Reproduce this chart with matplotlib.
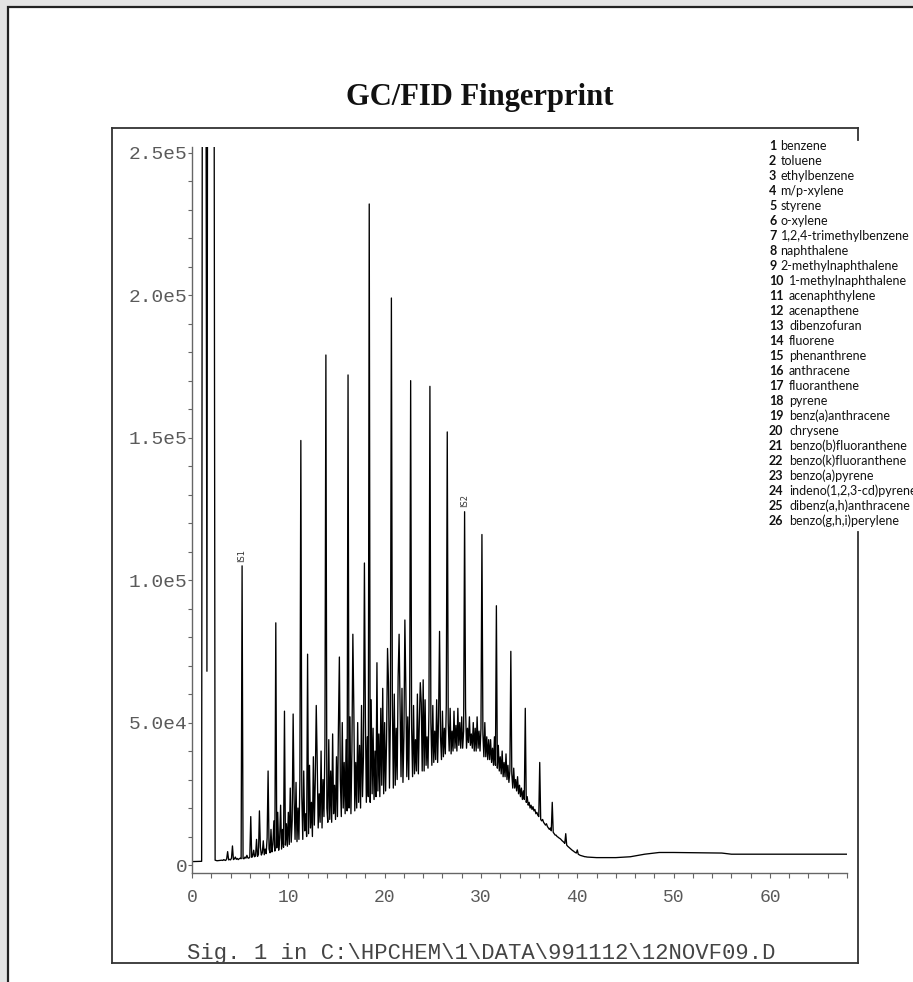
import numpy as np
import matplotlib
matplotlib.use('Agg')
import matplotlib.pyplot as plt
from matplotlib.patches import Rectangle
from matplotlib.lines import Line2D
from matplotlib.ticker import MultipleLocator, FixedLocator

W, H = 913, 982

# all signal values in counts/1000, time in min
# solvent front at the start of the run (off scale)
lead_t = [0.0, 1.0, 1.1, 1.4, 1.55, 1.65, 2.25, 2.4, 2.6, 2.9]
lead_v = [1.2, 1.3, 400, 400, 68, 400, 400, 1.7, 1.5, 1.6]

# hump + unresolved "grass", one row per minute, 0.1 min apart, from 3.0 min
grass_t0 = 3.0
grass_rows = [
    [1.6, 1.7, 1.6, 1.9, 1.7, 1.6, 2.2, 1.7, 1.8, 2.0],   # 3
    [1.8, 2.4, 2.0, 1.9, 2.2, 2.8, 2.0, 2.3, 1.9, 2.2],   # 4
    [2.4, 2.2, 3.2, 2.3, 2.2, 2.8, 2.4, 3.4, 2.5, 2.4],   # 5
    [2.8, 3.6, 2.7, 3.1, 5.2, 2.9, 3.3, 4.6, 3.0, 3.8],   # 6
    [3.3, 6.2, 3.5, 4.3, 8.5, 3.6, 5.6, 4.0, 9.5, 3.9],   # 7
    [5.6, 4.3, 12.5, 4.6, 7.2, 15.5, 4.9, 10.5, 6.0, 18.5],  # 8
    [5.2, 9.5, 21.0, 5.6, 12.5, 6.2, 25.0, 7.0, 14.5, 6.6],  # 9
    [18.5, 7.2, 27.0, 8.0, 15.5, 7.6, 23.0, 9.0, 29.0, 8.2],  # 10
    [20, 9, 30, 10, 24, 9, 33, 12, 18, 10],   # 11
    [28, 11, 35, 13, 22, 10, 38, 14, 30, 12],   # 12
    [36, 13, 25, 15, 40, 13, 30, 17, 42, 14],   # 13
    [20, 15, 44, 16, 33, 15, 46, 18, 28, 16],   # 14
    [38, 17, 48, 19, 30, 17, 50, 20, 36, 18],   # 15
    [44, 19, 30, 20, 52, 18, 40, 22, 55, 19],   # 16
    [36, 20, 50, 22, 42, 20, 56, 24, 38, 21],   # 17
    [52, 22, 45, 24, 36, 22, 58, 25, 48, 23],   # 18
    [40, 24, 60, 26, 46, 24, 55, 28, 62, 25],   # 19
    [50, 26, 44, 28, 64, 27, 52, 30, 58, 27],   # 20
    [60, 28, 48, 30, 66, 29, 55, 31, 62, 29],   # 21
    [45, 30, 62, 31, 52, 30, 58, 33, 48, 31],   # 22
    [56, 32, 44, 33, 60, 32, 50, 34, 57, 33],   # 23
    [48, 33, 58, 35, 45, 34, 54, 36, 50, 35],   # 24
    [56, 36, 47, 37, 58, 36, 52, 38, 45, 37],   # 25
    [54, 38, 48, 39, 56, 38, 50, 40, 55, 39],   # 26
    [47, 40, 54, 41, 49, 40, 55, 42, 50, 41],   # 27
    [52, 41, 47, 42, 55, 41, 48, 43, 52, 42],   # 28
    [46, 41, 50, 40, 48, 40, 52, 41, 47, 40],   # 29
    [48, 39, 46, 38, 50, 38, 45, 37, 44, 37],   # 30
    [44, 36, 41, 35, 45, 35, 40, 34, 42, 33],   # 31
    [38, 32, 40, 31, 36, 31, 39, 30, 35, 29],   # 32
    [33, 28, 32, 27, 34, 27, 30, 26, 31, 25],   # 33
    [28, 24, 27, 23, 26, 23, 25, 22, 24, 21],   # 34
    [22, 20, 21, 19.5, 20.5, 19, 19.5, 18, 18.5, 17.5],   # 35
    [17, 16.5, 16, 15.5, 16, 15, 14.5, 14, 14.5, 13.5],   # 36
    [13, 12.5, 13, 12, 11.5, 11.5, 11, 10.5, 10.5, 10],   # 37
    [9.8, 9.5, 9.3, 9, 8.6, 8.3, 8, 7.6, 7.3, 7],   # 38
    [6.6, 6.3, 6, 5.7, 5.4, 5.1, 4.9, 4.6, 4.4, 4.2],   # 39
    [4.0, 3.8, 3.6, 3.4, 3.3, 3.2, 3.1, 3.0, 2.9, 2.9],   # 40
]

# resolved peaks (retention time, apex height)
peak_t = [3.7, 4.2, 5.2, 6.1, 6.7, 7.0, 7.9, 8.7, 9.6, 10.5, 11.3, 12.0, 12.9,
          13.9, 14.6, 15.3, 16.2, 16.7, 17.9, 18.4, 19.2, 20.3, 20.7, 21.5,
          22.1, 22.7, 23.7, 24.0, 24.7, 25.7, 26.5, 28.3, 30.1, 31.6, 33.1,
          34.6, 36.1, 37.4, 38.8, 40.0]
peak_h = [4.7, 6.7, 105, 17, 9, 19, 33, 85, 54, 53, 149, 74, 56,
          179, 41, 73, 172, 81, 106, 232, 71, 76, 199, 81,
          86, 170, 64, 65, 168, 82, 152, 124, 116, 91, 75,
          55, 36, 22, 11, 5.3]

# internal standards
is_labels = ['IS1', 'IS2']
is_t = [5.2, 28.3]
is_h = [105, 124]

# baseline after the hump
tail_t = [41.0, 42.0, 44.0, 45.5, 47.0, 48.5, 50.0, 53.0, 55.0, 56.0, 60.0, 68.0]
tail_v = [2.8, 2.6, 2.6, 2.9, 3.8, 4.4, 4.4, 4.3, 4.2, 3.8, 3.8, 3.8]

yticks = [0, 50000, 100000, 150000, 200000, 250000]
ytick_labels = ['0', '5.0e4', '1.0e5', '1.5e5', '2.0e5', '2.5e5']
xticks = [0, 10, 20, 30, 40, 50, 60]

compounds = ['benzene', 'toluene', 'ethylbenzene', 'm/p-xylene', 'styrene',
             'o-xylene', '1,2,4-trimethylbenzene', 'naphthalene',
             '2-methylnaphthalene', '1-methylnaphthalene', 'acenaphthylene',
             'acenapthene', 'dibenzofuran', 'fluorene', 'phenanthrene',
             'anthracene', 'fluoranthene', 'pyrene', 'benz(a)anthracene',
             'chrysene', 'benzo(b)fluoranthene', 'benzo(k)fluoranthene',
             'benzo(a)pyrene', 'indeno(1,2,3-cd)pyrene',
             'dibenz(a,h)anthracene', 'benzo(g,h,i)perylene']

title = 'GC/FID Fingerprint'
signal_file = r'Sig. 1 in C:\HPCHEM\1\DATA\991112\12NOVF09.D'

# build trace
grass_v = [v for row in grass_rows for v in row]
grass_t = list(grass_t0 + 0.1 * np.arange(len(grass_v)))
for t, h in zip(peak_t, peak_h):
    i = int(round((t - grass_t0) / 0.1))
    grass_v[i] = max(grass_v[i], h)

trace_t = np.array(lead_t + grass_t + tail_t)
trace_v = np.array(lead_v + grass_v + tail_v) * 1000


def fx(px):
    return px / W


def fy(py):
    return 1 - py / H


fig = plt.figure(figsize=(W / 100, H / 100), dpi=100, facecolor='#e4e4e4')

# scanned page + frame (kept behind the axes)
fig.add_artist(Rectangle((fx(8), -0.1), 1.2, fy(7) + 0.1, transform=fig.transFigure,
                         facecolor='white', edgecolor='#222222', lw=1.6, zorder=-10))
frame_col = '#333333'
for xs, ys in [([112, 858], [128, 128]), ([112, 112], [128, 963]),
               ([112, 858], [963, 963]), ([858, 858], [128, 140]),
               ([858, 858], [532, 963])]:
    fig.add_artist(Line2D([fx(x) for x in xs], [fy(y) for y in ys],
                          transform=fig.transFigure, color=frame_col, lw=1.3,
                          zorder=-5))

fig.text(fx(480), fy(97), title, ha='center', va='center',
         family='Liberation Serif', weight='bold', fontsize=22, color='#111111')

ax = fig.add_axes([fx(192), fy(873), (847 - 192) / W, (873 - 147) / H])
ax.set_zorder(5)
ax.set_facecolor('none')
ax.plot(trace_t, trace_v, color='#000000', lw=0.95)
ax.set_xlim(0, 68)
ax.set_ylim(-2800, 252000)

for s in ['top', 'right']:
    ax.spines[s].set_visible(False)
for s in ['left', 'bottom']:
    ax.spines[s].set_color('#666666')
    ax.spines[s].set_linewidth(1.0)

ax.yaxis.set_major_locator(FixedLocator(yticks))
ax.set_yticklabels(ytick_labels)
ax.yaxis.set_minor_locator(MultipleLocator(10000))
ax.xaxis.set_major_locator(FixedLocator(xticks))
ax.xaxis.set_minor_locator(MultipleLocator(2))
ax.tick_params(axis='y', which='both', direction='out', length=3, width=0.8,
               color='#666666', pad=0.5)
ax.tick_params(axis='x', which='both', direction='out', length=3.5, width=0.8,
               color='#666666', pad=8)
for lab in ax.get_yticklabels():
    lab.set_family('Liberation Mono')
    lab.set_fontsize(14)
    lab.set_color('#5a5a5a')
for lab in ax.get_xticklabels():
    lab.set_family('Liberation Mono')
    lab.set_fontsize(13)
    lab.set_color('#5a5a5a')

for lab, t, h in zip(is_labels, is_t, is_h):
    ax.text(t, h * 1000 + 1500, lab, rotation=90, ha='center', va='bottom',
            fontsize=6, color='#333333')

# compound list
for n, name in enumerate(compounds, start=1):
    y = fy(146 + (n - 1) * 15)
    fig.text(fx(769), y, str(n), ha='left', va='center', family='Lato',
             weight='bold', fontsize=9, color='#111111')
    fig.text(fx(769 + 3 + 8.5 * len(str(n))), y, name, ha='left', va='center',
             family='Lato', fontsize=9, color='#111111')

fig.text(fx(187), fy(954), signal_file, ha='left', va='center',
         family='Liberation Mono', fontsize=16, color='#444444')

fig.savefig('out.png', dpi=100, facecolor=fig.get_facecolor())
